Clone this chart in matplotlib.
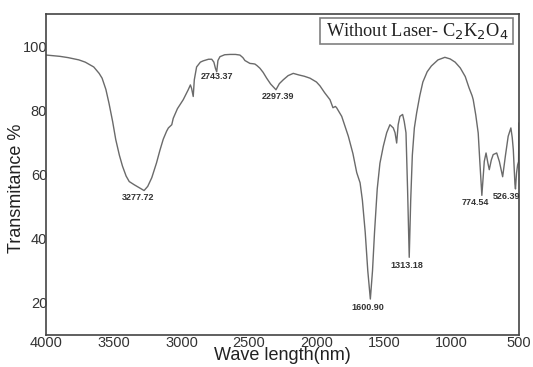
import matplotlib
matplotlib.use("Agg")
import matplotlib.pyplot as plt
from matplotlib.patches import Rectangle

wavelength = [4000, 3900, 3839, 3760, 3713, 3650, 3610, 3588, 3560, 3537, 3510,
              3487, 3460, 3437, 3410, 3387, 3350, 3310, 3277, 3250, 3220, 3185,
              3160, 3135, 3110, 3097, 3072, 3061, 3030, 2987, 2950, 2934, 2925,
              2913, 2905, 2888, 2860, 2839, 2800, 2776, 2760, 2748, 2739, 2730,
              2715, 2680, 2641, 2600, 2567, 2545, 2530, 2510, 2493, 2470, 2456,
              2440, 2419, 2395, 2369, 2340, 2300, 2275, 2246, 2210, 2172, 2130,
              2090, 2048, 2000, 1974, 1940, 1900, 1878, 1860, 1851, 1813, 1764,
              1730, 1702, 1677, 1660, 1639, 1620, 1601, 1585, 1570, 1550, 1530,
              1505, 1480, 1456, 1431, 1418, 1406, 1395, 1382, 1362, 1350, 1337,
              1325, 1313, 1302, 1290, 1275, 1258, 1235, 1212, 1180, 1149, 1100,
              1049, 1010, 973, 935, 898, 870, 847, 839, 820, 802, 790, 775, 757,
              744, 730, 720, 705, 691, 665, 645, 621, 600, 580, 560, 550, 542,
              530, 526, 518, 510, 503, 500]
transmittance = [97.2, 96.8, 96.4, 95.7, 95.0, 93.5, 91.5, 90.0, 86.5, 82.2, 76.5,
                 70.9, 66.0, 62.6, 59.5, 57.8, 56.8, 55.8, 55.0, 56.3, 59.0, 63.6,
                 67.5, 71.0, 73.5, 74.5, 75.5, 77.5, 80.5, 83.3, 86.4, 87.9, 86.8,
                 84.3, 89.5, 93.5, 95.0, 95.4, 95.9, 95.9, 95.0, 93.0, 92.0, 95.5,
                 96.7, 97.3, 97.4, 97.4, 97.2, 96.4, 95.5, 95.0, 94.6, 94.5, 94.4,
                 93.9, 93.1, 91.8, 90.0, 88.2, 86.4, 88.3, 89.5, 90.8, 91.5, 91.0,
                 90.6, 90.0, 88.8, 87.6, 85.5, 83.3, 80.8, 81.2, 80.8, 78.1, 71.9,
                 66.5, 60.6, 57.4, 52.0, 42.0, 30.0, 21.2, 30.0, 42.0, 55.5, 63.5,
                 68.8, 73.0, 75.5, 74.5, 73.0, 69.8, 75.5, 78.1, 78.7, 76.5, 73.0,
                 55.0, 34.2, 52.0, 66.0, 74.5, 79.2, 84.5, 88.8, 92.0, 93.8, 95.7,
                 96.5, 96.0, 95.0, 93.2, 90.5, 87.0, 84.5, 83.3, 78.5, 72.9, 64.0,
                 53.5, 64.1, 66.7, 63.5, 61.5, 64.5, 66.2, 66.7, 64.0, 59.3, 66.0,
                 71.9, 74.5, 71.5, 67.7, 57.0, 55.5, 60.5, 63.0, 64.0, 76.0]

peak_labels = ["3277.72", "2743.37", "2297.39", "1600.90", "1313.18", "774.54", "526.39"]
peak_label_x = [3324, 2738, 2285, 1622, 1333, 822, 591]
peak_label_y = [52.8, 90.5, 84.3, 18.7, 31.6, 51.2, 53.1]

x_ticks = [4000, 3500, 3000, 2500, 2000, 1500, 1000, 500]
y_ticks = [20, 40, 60, 80, 100]

plt.rcParams['font.family'] = ['Liberation Sans', 'DejaVu Sans']
fig = plt.figure(figsize=(5.33, 3.67), dpi=100)
ax = fig.add_axes([0.0872, 0.0872, 0.8865, 0.8747])
ax.plot(wavelength, transmittance, color='#6a6a6a', lw=1.0)
ax.set_xlim(4000, 500)
ax.set_ylim(10, 110)
ax.set_xticks(x_ticks)
ax.set_yticks(y_ticks)
ax.tick_params(length=0, labelsize=10.5, colors='#333333')
ax.tick_params(axis='x', pad=0.5)
ax.tick_params(axis='y', pad=-0.5)
for s in ax.spines.values():
    s.set_color('#444444')
    s.set_linewidth(1.2)
ax.set_xlabel('Wave length(nm)', fontsize=13, color='#222222')
ax.xaxis.set_label_coords(0.5, -0.038)
ax.set_ylabel('Transmitance %', fontsize=13, color='#222222')
ax.yaxis.set_label_coords(-0.045, 0.458)

for t, x, y in zip(peak_labels, peak_label_x, peak_label_y):
    ax.text(x, y, t, fontsize=6.5, fontweight='bold', ha='center', va='center', color='#333333')

ax.add_patch(Rectangle((0.579, 0.9065), 0.408, 0.081, transform=ax.transAxes,
                       fc='white', ec='#808080', lw=1.2, zorder=3))
ax.text(0.785, 0.947, 'Without Laser- C$_2$K$_2$O$_4$', transform=ax.transAxes,
        ha='center', va='center', fontsize=13.2, family='Liberation Serif',
        color='#222222', zorder=4)

fig.savefig('out.png', dpi=100)
